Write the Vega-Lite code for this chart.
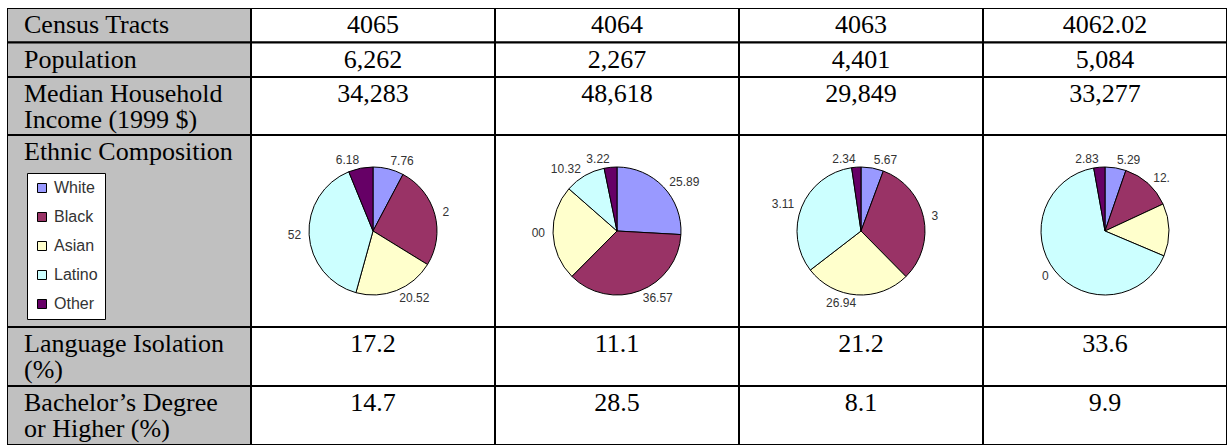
{
  "$schema": "https://vega.github.io/schema/vega-lite/v6.json",
  "padding": {"left": 7, "top": 8, "right": 0, "bottom": 0},
  "background": "white",
  "datasets": {
    "cells": [
      {"sec": "A", "row": "r1", "col": "h", "t": "Census Tracts"},
      {"sec": "A", "row": "r1", "col": "c1", "t": "4065"},
      {"sec": "A", "row": "r1", "col": "c2", "t": "4064"},
      {"sec": "A", "row": "r1", "col": "c3", "t": "4063"},
      {"sec": "A", "row": "r1", "col": "c4", "t": "4062.02"},
      {"sec": "A", "row": "r2", "col": "h", "t": "Population"},
      {"sec": "A", "row": "r2", "col": "c1", "t": "6,262"},
      {"sec": "A", "row": "r2", "col": "c2", "t": "2,267"},
      {"sec": "A", "row": "r2", "col": "c3", "t": "4,401"},
      {"sec": "A", "row": "r2", "col": "c4", "t": "5,084"},
      {"sec": "B", "row": "r1", "col": "h", "t": "Median Household\nIncome (1999 $)"},
      {"sec": "B", "row": "r1", "col": "c1", "t": "34,283"},
      {"sec": "B", "row": "r1", "col": "c2", "t": "48,618"},
      {"sec": "B", "row": "r1", "col": "c3", "t": "29,849"},
      {"sec": "B", "row": "r1", "col": "c4", "t": "33,277"},
      {"sec": "C", "row": "r1", "col": "h", "t": "Ethnic Composition"},
      {"sec": "D", "row": "r1", "col": "h", "t": "Language Isolation\n(%)"},
      {"sec": "D", "row": "r1", "col": "c1", "t": "17.2"},
      {"sec": "D", "row": "r1", "col": "c2", "t": "11.1"},
      {"sec": "D", "row": "r1", "col": "c3", "t": "21.2"},
      {"sec": "D", "row": "r1", "col": "c4", "t": "33.6"},
      {"sec": "D", "row": "r2", "col": "h", "t": "Bachelor’s Degree\nor Higher (%)"},
      {"sec": "D", "row": "r2", "col": "c1", "t": "14.7"},
      {"sec": "D", "row": "r2", "col": "c2", "t": "28.5"},
      {"sec": "D", "row": "r2", "col": "c3", "t": "8.1"},
      {"sec": "D", "row": "r2", "col": "c4", "t": "9.9"}
    ],
    "eth": [
      {"tract": "4065", "eth": "White", "k": 1, "v": 7.76, "lab": "7.76"},
      {"tract": "4065", "eth": "Black", "k": 2, "v": 26.02, "lab": "2"},
      {"tract": "4065", "eth": "Asian", "k": 3, "v": 20.52, "lab": "20.52"},
      {"tract": "4065", "eth": "Latino", "k": 4, "v": 39.52, "lab": "52"},
      {"tract": "4065", "eth": "Other", "k": 5, "v": 6.18, "lab": "6.18"},
      {"tract": "4064", "eth": "White", "k": 1, "v": 25.89, "lab": "25.89"},
      {"tract": "4064", "eth": "Black", "k": 2, "v": 36.57, "lab": "36.57"},
      {"tract": "4064", "eth": "Asian", "k": 3, "v": 24.0, "lab": "00"},
      {"tract": "4064", "eth": "Latino", "k": 4, "v": 10.32, "lab": "10.32"},
      {"tract": "4064", "eth": "Other", "k": 5, "v": 3.22, "lab": "3.22"},
      {"tract": "4063", "eth": "White", "k": 1, "v": 5.67, "lab": "5.67"},
      {"tract": "4063", "eth": "Black", "k": 2, "v": 31.94, "lab": "3"},
      {"tract": "4063", "eth": "Asian", "k": 3, "v": 26.94, "lab": "26.94"},
      {"tract": "4063", "eth": "Latino", "k": 4, "v": 33.11, "lab": "3.11"},
      {"tract": "4063", "eth": "Other", "k": 5, "v": 2.34, "lab": "2.34"},
      {"tract": "4062.02", "eth": "White", "k": 1, "v": 5.29, "lab": "5.29"},
      {"tract": "4062.02", "eth": "Black", "k": 2, "v": 12.78, "lab": "12."},
      {"tract": "4062.02", "eth": "Asian", "k": 3, "v": 13.3, "lab": ""},
      {"tract": "4062.02", "eth": "Latino", "k": 4, "v": 65.8, "lab": "0"},
      {"tract": "4062.02", "eth": "Other", "k": 5, "v": 2.83, "lab": "2.83"}
    ]
  },
  "spacing": 0,
  "vconcat": [
    {
      "width": 1220, "height": 69,
      "data": {"name": "cells"},
      "transform": [{"filter": "datum.sec == 'A'"}],
      "encoding": {
        "x": {"field": "col", "type": "nominal", "scale": {"domain": ["h", "c1", "c2", "c3", "c4"], "paddingInner": 0, "paddingOuter": 0}, "axis": null},
        "y": {"field": "row", "type": "nominal", "scale": {"domain": ["r1", "r2"], "paddingInner": 0, "paddingOuter": 0}, "axis": null}
      },
      "layer": [
        {"transform": [{"filter": "datum.col == 'h'"}], "mark": {"type": "rect", "stroke": "black", "strokeWidth": 2, "fill": "#c0c0c0", "clip": true}},
        {"transform": [{"filter": "datum.col != 'h'"}], "mark": {"type": "rect", "stroke": "black", "strokeWidth": 2, "fill": "white", "clip": true}},
        {"transform": [{"filter": "datum.col == 'h'"}], "mark": {"type": "text", "align": "left", "baseline": "top", "dx": 17, "dy": 4, "font": "Liberation Serif", "fontSize": 26, "lineBreak": "\n", "lineHeight": 26, "color": "black"},
         "encoding": {"x": {"field": "col", "type": "nominal", "bandPosition": 0}, "y": {"field": "row", "type": "nominal", "bandPosition": 0}, "text": {"field": "t"}}},
        {"transform": [{"filter": "datum.col != 'h'"}], "mark": {"type": "text", "align": "center", "baseline": "top", "dy": 4, "font": "Liberation Serif", "fontSize": 26, "lineBreak": "\n", "lineHeight": 26, "color": "black"},
         "encoding": {"y": {"field": "row", "type": "nominal", "bandPosition": 0}, "text": {"field": "t"}}}
      ]
    },
    {
      "width": 1220, "height": 58,
      "data": {"name": "cells"},
      "transform": [{"filter": "datum.sec == 'B'"}],
      "encoding": {
        "x": {"field": "col", "type": "nominal", "scale": {"domain": ["h", "c1", "c2", "c3", "c4"], "paddingInner": 0, "paddingOuter": 0}, "axis": null},
        "y": {"field": "row", "type": "nominal", "scale": {"domain": ["r1"], "paddingInner": 0, "paddingOuter": 0}, "axis": null}
      },
      "layer": [
        {"transform": [{"filter": "datum.col == 'h'"}], "mark": {"type": "rect", "stroke": "black", "strokeWidth": 2, "fill": "#c0c0c0", "clip": true}},
        {"transform": [{"filter": "datum.col != 'h'"}], "mark": {"type": "rect", "stroke": "black", "strokeWidth": 2, "fill": "white", "clip": true}},
        {"transform": [{"filter": "datum.col == 'h'"}], "mark": {"type": "text", "align": "left", "baseline": "top", "dx": 17, "dy": 4, "font": "Liberation Serif", "fontSize": 26, "lineBreak": "\n", "lineHeight": 26, "color": "black"},
         "encoding": {"x": {"field": "col", "type": "nominal", "bandPosition": 0}, "y": {"field": "row", "type": "nominal", "bandPosition": 0}, "text": {"field": "t"}}},
        {"transform": [{"filter": "datum.col != 'h'"}], "mark": {"type": "text", "align": "center", "baseline": "top", "dy": 4, "font": "Liberation Serif", "fontSize": 26, "lineBreak": "\n", "lineHeight": 26, "color": "black"},
         "encoding": {"y": {"field": "row", "type": "nominal", "bandPosition": 0}, "text": {"field": "t"}}}
      ]
    },
    {
      "spacing": 0,
      "bounds": "flush",
      "hconcat": [
        {
          "width": 244, "height": 192,
          "data": {"name": "cells"},
          "transform": [{"filter": "datum.sec == 'C'"}],
          "encoding": {
            "x": {"field": "col", "type": "nominal", "scale": {"domain": ["h"], "paddingInner": 0, "paddingOuter": 0}, "axis": null},
            "y": {"field": "row", "type": "nominal", "scale": {"domain": ["r1"], "paddingInner": 0, "paddingOuter": 0}, "axis": null}
          },
          "layer": [
            {"mark": {"type": "rect", "stroke": "black", "strokeWidth": 2, "fill": "#c0c0c0", "clip": true}},
            {"mark": {"type": "text", "align": "left", "baseline": "top", "dx": 17, "dy": 4, "font": "Liberation Serif", "fontSize": 26, "color": "black"},
             "encoding": {"x": {"field": "col", "type": "nominal", "bandPosition": 0}, "y": {"field": "row", "type": "nominal", "bandPosition": 0}, "text": {"field": "t"}}}
          ]
        },
        {
          "width": 244, "height": 192,
          "data": {"name": "eth"},
          "transform": [{"filter": "datum.tract == '4065'"}, {"stack": "v", "groupby": ["tract"], "sort": [{"field": "k", "order": "ascending"}], "as": ["v0", "v1"]}, {"calculate": "(datum.v0 + datum.v1) / 2", "as": "mid"}],
          "layer": [
            {"data": {"values": [{"cell": "4065"}]}, "mark": {"type": "rect", "stroke": "black", "strokeWidth": 2, "fill": "white", "clip": true}},
            {"mark": {"type": "arc", "outerRadius": 64, "stroke": "black", "strokeWidth": 1},
             "encoding": {"theta": {"field": "v0", "type": "quantitative", "scale": {"domain": [0, 100]}}, "theta2": {"field": "v1"},
               "color": {"field": "eth", "type": "nominal", "scale": {"domain": ["White", "Black", "Asian", "Latino", "Other"], "range": ["#9999ff", "#993366", "#ffffcc", "#ccffff", "#660066"]},
               "legend": {"orient": "none", "legendX": 20, "legendY": 165, "title": null, "symbolType": "square", "symbolSize": 81, "symbolStrokeColor": "black", "symbolStrokeWidth": 1, "labelFont": "Liberation Sans", "labelFontSize": 16, "labelColor": "#333", "rowPadding": 13, "labelOffset": 4, "padding": 7, "fillColor": "white", "strokeColor": "black"}}}},
            {"transform": [{"filter": "datum.mid <= 50"}], "mark": {"type": "text", "radius": 72, "align": "left", "font": "Liberation Sans", "fontSize": 12, "color": "#333"},
             "encoding": {"theta": {"field": "mid", "type": "quantitative"}, "text": {"field": "lab"}}},
            {"transform": [{"filter": "datum.mid > 50"}], "mark": {"type": "text", "radius": 72, "align": "right", "font": "Liberation Sans", "fontSize": 12, "color": "#333"},
             "encoding": {"theta": {"field": "mid", "type": "quantitative"}, "text": {"field": "lab"}}}
          ]
        },
        {
          "width": 244, "height": 192,
          "data": {"name": "eth"},
          "transform": [{"filter": "datum.tract == '4064'"}, {"stack": "v", "groupby": ["tract"], "sort": [{"field": "k", "order": "ascending"}], "as": ["v0", "v1"]}, {"calculate": "(datum.v0 + datum.v1) / 2", "as": "mid"}],
          "layer": [
            {"data": {"values": [{"cell": "4064"}]}, "mark": {"type": "rect", "stroke": "black", "strokeWidth": 2, "fill": "white", "clip": true}},
            {"mark": {"type": "arc", "outerRadius": 64, "stroke": "black", "strokeWidth": 1},
             "encoding": {"theta": {"field": "v0", "type": "quantitative", "scale": {"domain": [0, 100]}}, "theta2": {"field": "v1"},
               "color": {"field": "eth", "type": "nominal", "scale": {"domain": ["White", "Black", "Asian", "Latino", "Other"], "range": ["#9999ff", "#993366", "#ffffcc", "#ccffff", "#660066"]},
               "legend": {"orient": "none", "legendX": 20, "legendY": 165, "title": null, "symbolType": "square", "symbolSize": 81, "symbolStrokeColor": "black", "symbolStrokeWidth": 1, "labelFont": "Liberation Sans", "labelFontSize": 16, "labelColor": "#333", "rowPadding": 13, "labelOffset": 4, "padding": 7, "fillColor": "white", "strokeColor": "black"}}}},
            {"transform": [{"filter": "datum.mid <= 50"}], "mark": {"type": "text", "radius": 72, "align": "left", "font": "Liberation Sans", "fontSize": 12, "color": "#333"},
             "encoding": {"theta": {"field": "mid", "type": "quantitative"}, "text": {"field": "lab"}}},
            {"transform": [{"filter": "datum.mid > 50"}], "mark": {"type": "text", "radius": 72, "align": "right", "font": "Liberation Sans", "fontSize": 12, "color": "#333"},
             "encoding": {"theta": {"field": "mid", "type": "quantitative"}, "text": {"field": "lab"}}}
          ]
        },
        {
          "width": 244, "height": 192,
          "data": {"name": "eth"},
          "transform": [{"filter": "datum.tract == '4063'"}, {"stack": "v", "groupby": ["tract"], "sort": [{"field": "k", "order": "ascending"}], "as": ["v0", "v1"]}, {"calculate": "(datum.v0 + datum.v1) / 2", "as": "mid"}],
          "layer": [
            {"data": {"values": [{"cell": "4063"}]}, "mark": {"type": "rect", "stroke": "black", "strokeWidth": 2, "fill": "white", "clip": true}},
            {"mark": {"type": "arc", "outerRadius": 64, "stroke": "black", "strokeWidth": 1},
             "encoding": {"theta": {"field": "v0", "type": "quantitative", "scale": {"domain": [0, 100]}}, "theta2": {"field": "v1"},
               "color": {"field": "eth", "type": "nominal", "scale": {"domain": ["White", "Black", "Asian", "Latino", "Other"], "range": ["#9999ff", "#993366", "#ffffcc", "#ccffff", "#660066"]},
               "legend": {"orient": "none", "legendX": 20, "legendY": 165, "title": null, "symbolType": "square", "symbolSize": 81, "symbolStrokeColor": "black", "symbolStrokeWidth": 1, "labelFont": "Liberation Sans", "labelFontSize": 16, "labelColor": "#333", "rowPadding": 13, "labelOffset": 4, "padding": 7, "fillColor": "white", "strokeColor": "black"}}}},
            {"transform": [{"filter": "datum.mid <= 50"}], "mark": {"type": "text", "radius": 72, "align": "left", "font": "Liberation Sans", "fontSize": 12, "color": "#333"},
             "encoding": {"theta": {"field": "mid", "type": "quantitative"}, "text": {"field": "lab"}}},
            {"transform": [{"filter": "datum.mid > 50"}], "mark": {"type": "text", "radius": 72, "align": "right", "font": "Liberation Sans", "fontSize": 12, "color": "#333"},
             "encoding": {"theta": {"field": "mid", "type": "quantitative"}, "text": {"field": "lab"}}}
          ]
        },
        {
          "width": 244, "height": 192,
          "data": {"name": "eth"},
          "transform": [{"filter": "datum.tract == '4062.02'"}, {"stack": "v", "groupby": ["tract"], "sort": [{"field": "k", "order": "ascending"}], "as": ["v0", "v1"]}, {"calculate": "(datum.v0 + datum.v1) / 2", "as": "mid"}],
          "layer": [
            {"data": {"values": [{"cell": "4062.02"}]}, "mark": {"type": "rect", "stroke": "black", "strokeWidth": 2, "fill": "white", "clip": true}},
            {"mark": {"type": "arc", "outerRadius": 64, "stroke": "black", "strokeWidth": 1},
             "encoding": {"theta": {"field": "v0", "type": "quantitative", "scale": {"domain": [0, 100]}}, "theta2": {"field": "v1"},
               "color": {"field": "eth", "type": "nominal", "scale": {"domain": ["White", "Black", "Asian", "Latino", "Other"], "range": ["#9999ff", "#993366", "#ffffcc", "#ccffff", "#660066"]},
               "legend": {"orient": "none", "legendX": 20, "legendY": 165, "title": null, "symbolType": "square", "symbolSize": 81, "symbolStrokeColor": "black", "symbolStrokeWidth": 1, "labelFont": "Liberation Sans", "labelFontSize": 16, "labelColor": "#333", "rowPadding": 13, "labelOffset": 4, "padding": 7, "fillColor": "white", "strokeColor": "black"}}}},
            {"transform": [{"filter": "datum.mid <= 50"}], "mark": {"type": "text", "radius": 72, "align": "left", "font": "Liberation Sans", "fontSize": 12, "color": "#333"},
             "encoding": {"theta": {"field": "mid", "type": "quantitative"}, "text": {"field": "lab"}}},
            {"transform": [{"filter": "datum.mid > 50"}], "mark": {"type": "text", "radius": 72, "align": "right", "font": "Liberation Sans", "fontSize": 12, "color": "#333"},
             "encoding": {"theta": {"field": "mid", "type": "quantitative"}, "text": {"field": "lab"}}}
          ]
        }
      ]
    },
    {
      "width": 1220, "height": 118,
      "data": {"name": "cells"},
      "transform": [{"filter": "datum.sec == 'D'"}],
      "encoding": {
        "x": {"field": "col", "type": "nominal", "scale": {"domain": ["h", "c1", "c2", "c3", "c4"], "paddingInner": 0, "paddingOuter": 0}, "axis": null},
        "y": {"field": "row", "type": "nominal", "scale": {"domain": ["r1", "r2"], "paddingInner": 0, "paddingOuter": 0}, "axis": null}
      },
      "layer": [
        {"transform": [{"filter": "datum.col == 'h'"}], "mark": {"type": "rect", "stroke": "black", "strokeWidth": 2, "fill": "#c0c0c0", "clip": true}},
        {"transform": [{"filter": "datum.col != 'h'"}], "mark": {"type": "rect", "stroke": "black", "strokeWidth": 2, "fill": "white", "clip": true}},
        {"transform": [{"filter": "datum.col == 'h'"}], "mark": {"type": "text", "align": "left", "baseline": "top", "dx": 17, "dy": 4, "font": "Liberation Serif", "fontSize": 26, "lineBreak": "\n", "lineHeight": 26, "color": "black"},
         "encoding": {"x": {"field": "col", "type": "nominal", "bandPosition": 0}, "y": {"field": "row", "type": "nominal", "bandPosition": 0}, "text": {"field": "t"}}},
        {"transform": [{"filter": "datum.col != 'h'"}], "mark": {"type": "text", "align": "center", "baseline": "top", "dy": 4, "font": "Liberation Serif", "fontSize": 26, "lineBreak": "\n", "lineHeight": 26, "color": "black"},
         "encoding": {"y": {"field": "row", "type": "nominal", "bandPosition": 0}, "text": {"field": "t"}}}
      ]
    }
  ],
  "config": {"view": {"stroke": null}, "concat": {"spacing": 0}}
}
